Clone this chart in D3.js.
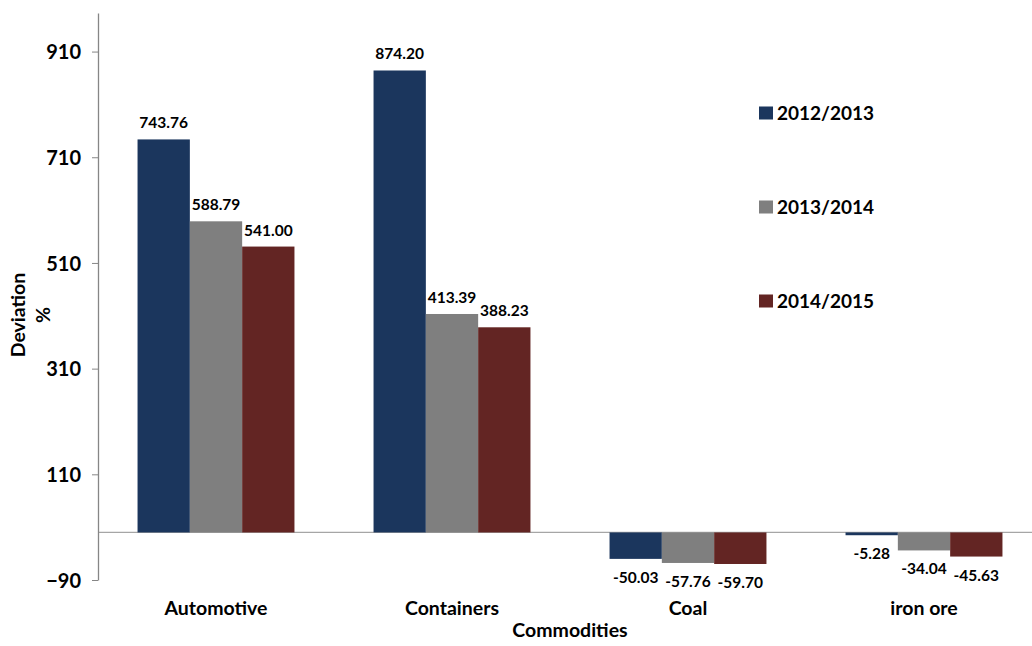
<!DOCTYPE html>
<html>
<head>
<meta charset="utf-8">
<script src="https://cdn.jsdelivr.net/npm/d3@7"></script>
<style>
  body { margin: 0; background: #fff; }
  text { font-family: Lato, "Open Sans", sans-serif; font-weight: bold; fill: #000; }
</style>
</head>
<body>
<div id="chart"></div>
<script>
// chart data
const categories = ["Automotive", "Containers", "Coal", "iron ore"];
const seriesNames = ["2012/2013", "2013/2014", "2014/2015"];
const v2012 = [743.76, 874.20, -50.03, -5.28];
const v2013 = [588.79, 413.39, -57.76, -34.04];
const v2014 = [541.00, 388.23, -59.70, -45.63];
const yTicks = [-90, 110, 310, 510, 710, 910];
const colors = ["#1b365d", "#7f7f7f", "#632523"];

const W = 1032, H = 646;
const m = {top: 13, left: 98, bottom: 66};
const plotRight = 1042;

const allSeries = [v2012, v2013, v2014];

const svg = d3.select("#chart").append("svg")
  .attr("width", W).attr("height", H);

const y = d3.scaleLinear()
  .domain([-90, 983])
  .range([H - m.bottom, m.top]);

const x = d3.scaleBand()
  .domain(categories)
  .range([m.left, plotRight]);

const xs = d3.scaleBand()
  .domain(seriesNames)
  .range([0, x.bandwidth()])
  .paddingOuter(0.756);

// zero line
svg.append("line")
  .attr("x1", m.left).attr("x2", W)
  .attr("y1", y(0)).attr("y2", y(0))
  .attr("stroke", "#a6a6a6").attr("stroke-width", 1.3);

// bars
const groups = svg.selectAll("g.cat")
  .data(categories)
  .join("g")
  .attr("class", "cat")
  .attr("transform", d => `translate(${x(d)},0)`);

groups.selectAll("rect")
  .data((c, i) => seriesNames.map((s, j) => ({s: s, j: j, v: allSeries[j][i]})))
  .join("rect")
  .attr("x", d => xs(d.s))
  .attr("width", xs.bandwidth())
  .attr("y", d => y(Math.max(0, d.v)))
  .attr("height", d => Math.abs(y(d.v) - y(0)))
  .attr("fill", d => colors[d.j]);

groups.selectAll("text.val")
  .data((c, i) => seriesNames.map((s, j) => ({s: s, j: j, v: allSeries[j][i]})))
  .join("text")
  .attr("class", "val")
  .attr("x", d => xs(d.s) + xs.bandwidth() / 2)
  .attr("y", d => d.v >= 0 ? y(d.v) - 11 : y(d.v) + 24)
  .attr("text-anchor", "middle")
  .style("font-size", "15.5px")
  .text(d => d.v.toFixed(2));

// y axis
const yAxis = svg.append("g")
  .attr("transform", `translate(${m.left},0)`)
  .call(d3.axisLeft(y).tickValues(yTicks).tickSize(6).tickSizeOuter(0).tickPadding(11));
yAxis.select(".domain").attr("stroke", "#868686").attr("stroke-width", 1.3);
yAxis.selectAll(".tick line").attr("stroke", "#868686");
yAxis.selectAll(".tick text")
  .style("font-size", "20px")
  .style("font-family", "Lato, sans-serif")
  .attr("dy", "0.36em");

// category labels
svg.selectAll("text.cat")
  .data(categories)
  .join("text")
  .attr("class", "cat")
  .attr("x", d => x(d) + x.bandwidth() / 2)
  .attr("y", 615)
  .attr("text-anchor", "middle")
  .style("font-size", "19.5px")
  .text(d => d);

// axis titles
svg.append("text")
  .attr("x", 570).attr("y", 637)
  .attr("text-anchor", "middle")
  .style("font-size", "19.5px")
  .text("Commodities");

svg.append("text")
  .attr("transform", "translate(25,315) rotate(-90)")
  .attr("text-anchor", "middle")
  .style("font-size", "19.5px")
  .text("Deviation");
svg.append("text")
  .attr("transform", "translate(50,315) rotate(-90)")
  .attr("text-anchor", "middle")
  .style("font-size", "19.5px")
  .text("%");

// legend
const legend = svg.selectAll("g.leg")
  .data(seriesNames)
  .join("g")
  .attr("class", "leg")
  .attr("transform", (d, i) => `translate(759,${113 + i * 94})`);
legend.append("rect")
  .attr("x", 0).attr("y", -6.5)
  .attr("width", 14).attr("height", 13)
  .attr("fill", (d, i) => colors[i]);
legend.append("text")
  .attr("x", 18).attr("y", 7)
  .style("font-size", "19px")
  .text(d => d);
</script>
</body>
</html>
